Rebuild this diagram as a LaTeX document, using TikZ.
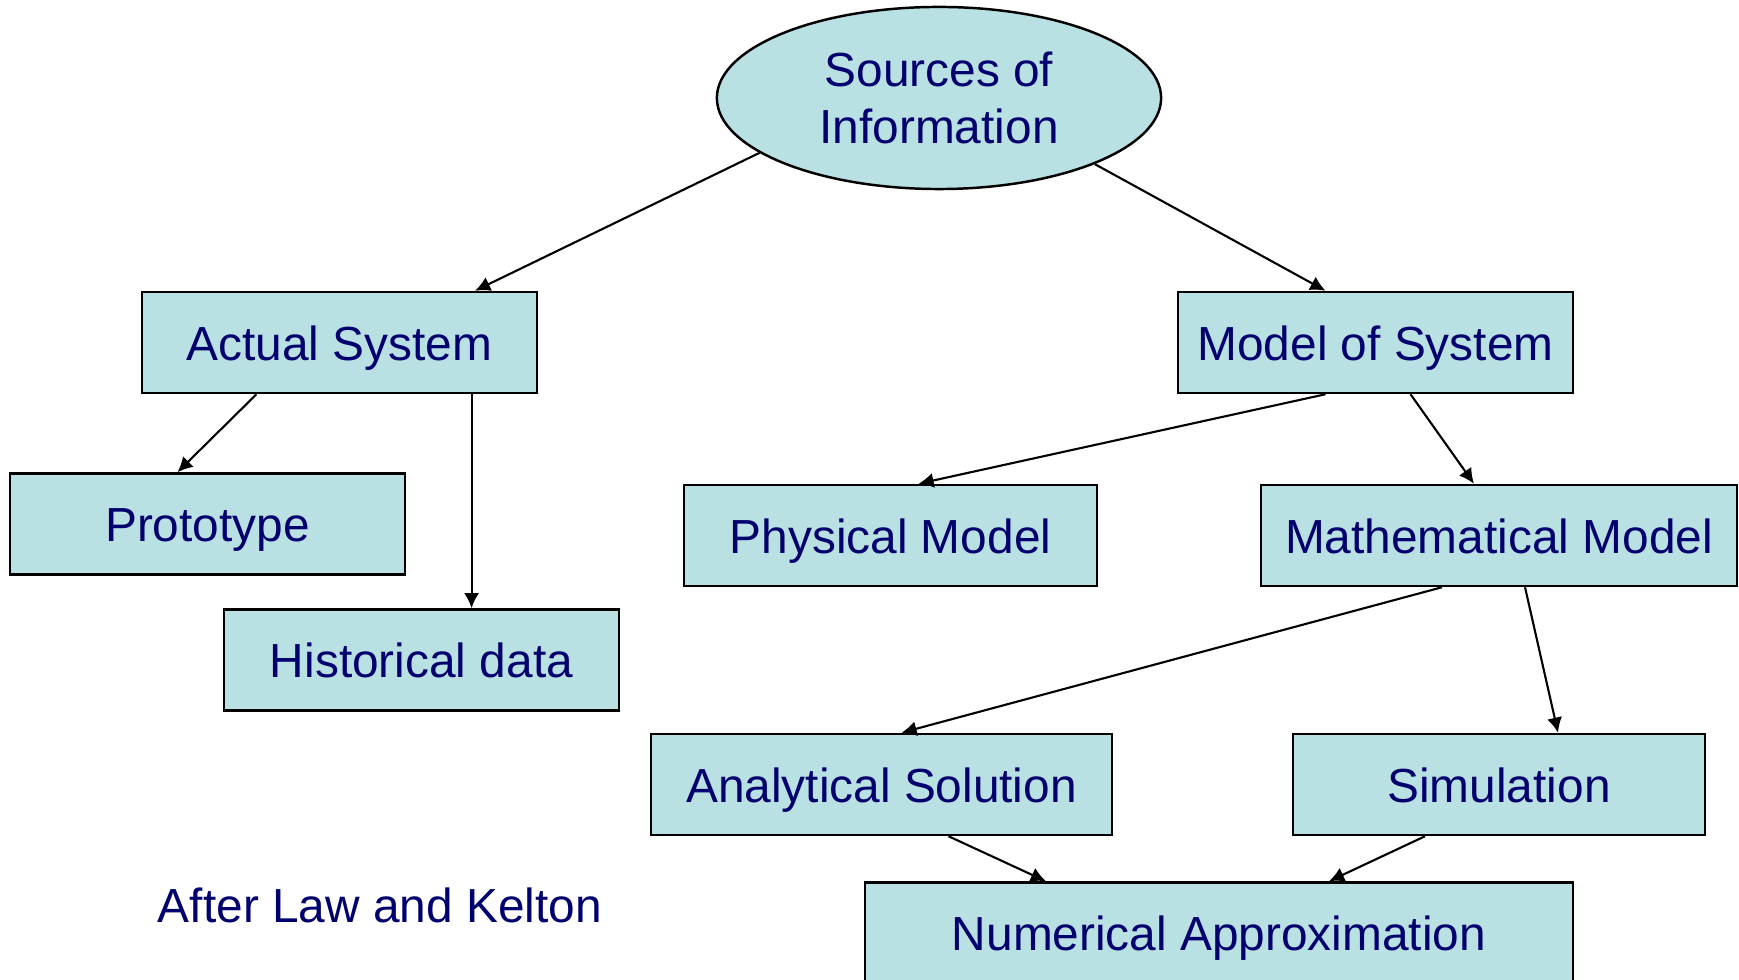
\documentclass[tikz,border=0pt]{standalone}
\usepackage{fontspec}
\setmainfont{Liberation Sans}
\usetikzlibrary{shapes.geometric,arrows.meta}
\definecolor{boxfill}{RGB}{185,224,227}
\definecolor{boxtext}{RGB}{0,0,110}
\tikzset{source/.style={draw, ellipse, line width=0.7pt, fill=boxfill, text=boxtext, inner sep=0pt, align=center}, block/.style={draw, line width=0.7pt, fill=boxfill, text=boxtext, minimum height=1.01cm, inner sep=0pt, text height=1.0em, text depth=0pt, align=center}, line/.style={-{Latex[length=4.3pt,width=4.3pt]}, line width=0.6pt}}

\begin{document}
\begin{tikzpicture}[x=0.01cm, y=-0.01cm, font=\fontsize{13.6pt}{16.4pt}\selectfont]
    \useasboundingbox (0,0) rectangle (1739,980);

    \node[source, minimum width=4.44cm, minimum height=1.82cm] (src) at (939,98) {Sources of\\Information};
    \node[block, minimum width=3.95cm]   (act)   at (339.5,342.5)  {Actual System};
    \node[block, minimum width=3.95cm]   (model) at (1375.5,342.5) {Model of System};
    \node[block, minimum width=3.95cm]   (proto) at (207.5,524)    {Prototype};
    \node[block, minimum width=3.95cm]   (hist)  at (421.5,660)    {Historical data};
    \node[block, minimum width=4.13cm]   (phys)  at (890.5,535.5)  {Physical Model};
    \node[block, minimum width=4.76cm]   (math)  at (1499,535.5)   {Mathematical Model};
    \node[block, minimum width=4.61cm]   (anal)  at (881.5,784.5)  {Analytical Solution};
    \node[block, minimum width=4.12cm]   (sim)   at (1499,784.5)   {Simulation};
    \node[block, minimum width=7.08cm]   (num)   at (1219,933)     {Numerical Approximation};
    \node[text=boxtext]                  (note)  at (380,905)      {After Law and Kelton};

    \draw[line]   (src.197) -- ([xshift=1.355cm]act.north);
    \draw[line]   (src.-23) -- ([xshift=-0.5cm]model.north);
    \draw[line]   ([xshift=-0.83cm]act.south) -- ([xshift=-0.3cm]proto.north);
    \draw[line]   ([xshift=1.32cm]act.south) -- ([xshift=1.32cm]act.south |- hist.north);
    \draw[line]   ([xshift=-0.5cm]model.south) -- ([xshift=0.28cm]phys.north);
    \draw[line]   ([xshift=0.35cm]model.south) -- ([xshift=-0.25cm]math.north);
    \draw[line]   ([xshift=-0.57cm]math.south) -- ([xshift=0.2cm]anal.north);
    \draw[line]   ([xshift=0.26cm]math.south) -- ([xshift=0.59cm]sim.north);
    \draw[line]   ([xshift=0.67cm]anal.south) -- ([xshift=-1.73cm]num.north);
    \draw[line]   ([xshift=-0.74cm]sim.south) -- ([xshift=1.1cm]num.north);
\end{tikzpicture}
\end{document}
